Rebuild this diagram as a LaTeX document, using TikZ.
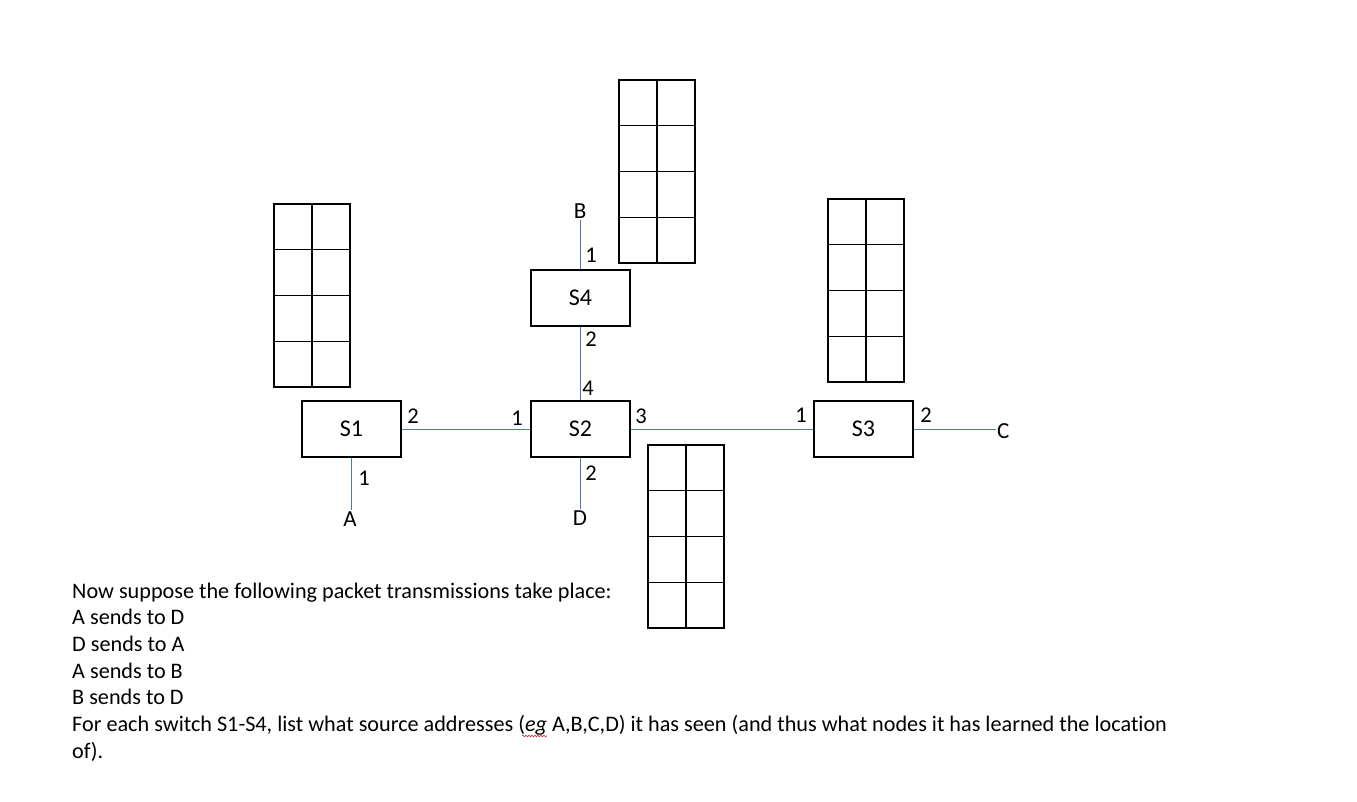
\documentclass[tikz,border=0pt]{standalone}
\usepackage{fontspec}
\setmainfont{Carlito}[Ligatures=NoCommon]
\usetikzlibrary{decorations.pathmorphing}
\definecolor{linkblue}{RGB}{80,122,176}
\definecolor{spellred}{RGB}{200,40,40}
\tikzset{
  tab/.style={line width=1.4pt, black},
  swbox/.style={draw, line width=2pt, minimum width=99pt, minimum height=56pt, inner sep=0pt, font=\fontsize{24}{29}\selectfont},
  endpt/.style={inner sep=1pt, font=\fontsize{23}{28}\selectfont},
  port/.style={inner sep=0pt, font=\fontsize{22.5}{26}\selectfont},
  link/.style={linkblue, line width=1pt},
  txt/.style={anchor=base west, inner sep=0pt, font=\fontsize{22.2}{26.7}\selectfont},
  mactable/.pic={
    \draw[tab] (0,0) rectangle (76,183);
    \draw[tab] (38,0) -- (38,183);
    \foreach \yy in {45.75,91.5,137.25} \draw[tab] (0,\yy) -- (76,\yy);
  }
}
\begin{document}
\begin{tikzpicture}[x=1pt, y=-1pt]
\useasboundingbox (0,0) rectangle (1357,802);
% MAC tables
\pic at (274,204) {mactable};
\pic at (619,80) {mactable};
\pic at (828,199) {mactable};
\pic at (648,445) {mactable};
% switches
\node[swbox] (S1) at (351.5,429) {S1};
\node[swbox] (S2) at (580.5,429) {S2};
\node[swbox] (S4) at (580.5,298) {S4};
\node[swbox] (S3) at (863.5,429) {S3};
% end hosts
\node[endpt] (A) at (350,519) {A};
\node[endpt] (D) at (580,518) {D};
\node[endpt] (B) at (580,211) {B};
\node[endpt, anchor=west] (C) at (996,431) {C};
% links
\draw[link] (S1.east) -- (S2.west);
\draw[link] (S2.east) -- (S3.west);
\draw[link] (S3.east) -- (S3.east -| C.west);
\draw[link] (S1.south) -- (S1.south |- A.north);
\draw[link] (S2.south) -- (S2.south |- D.north);
\draw[link] (S4.south) -- (S2.north);
\draw[link] (S4.north |- B.south) -- (S4.north);
% port numbers
\node[port] (p12) at (413,416) {2};
\node[port] (p11) at (364,478) {1};
\node[port] (p21) at (517,418) {1};
\node[port] (p24) at (588,388) {4};
\node[port] (p23) at (641,416) {3};
\node[port] (p22) at (591,473) {2};
\node[port] (p41) at (591,255) {1};
\node[port] (p42) at (591,339) {2};
\node[port] (p31) at (801,415) {1};
\node[port] (p32) at (926,415) {2};
% text
\node[txt] (t1) at (72,598) {Now suppose the following packet transmissions take place:};
\node[txt] (t2) at (72,624.5) {A sends to D};
\node[txt] (t3) at (72,651) {D sends to A};
\node[txt] (t4) at (72,678) {A sends to B};
\node[txt] (t5) at (72,704.5) {B sends to D};
\node[txt] (t6) at (72,731) {For each switch S1-S4, list what source addresses (\textit{eg} A,B,C,D) it has seen (and thus what nodes it has learned the location};
\node[txt] (t7) at (72,758) {of).};
\draw[spellred, line width=0.6pt, decorate, decoration={snake, amplitude=0.8pt, segment length=3pt}] (522,736) -- (547,736);
\end{tikzpicture}
\end{document}
